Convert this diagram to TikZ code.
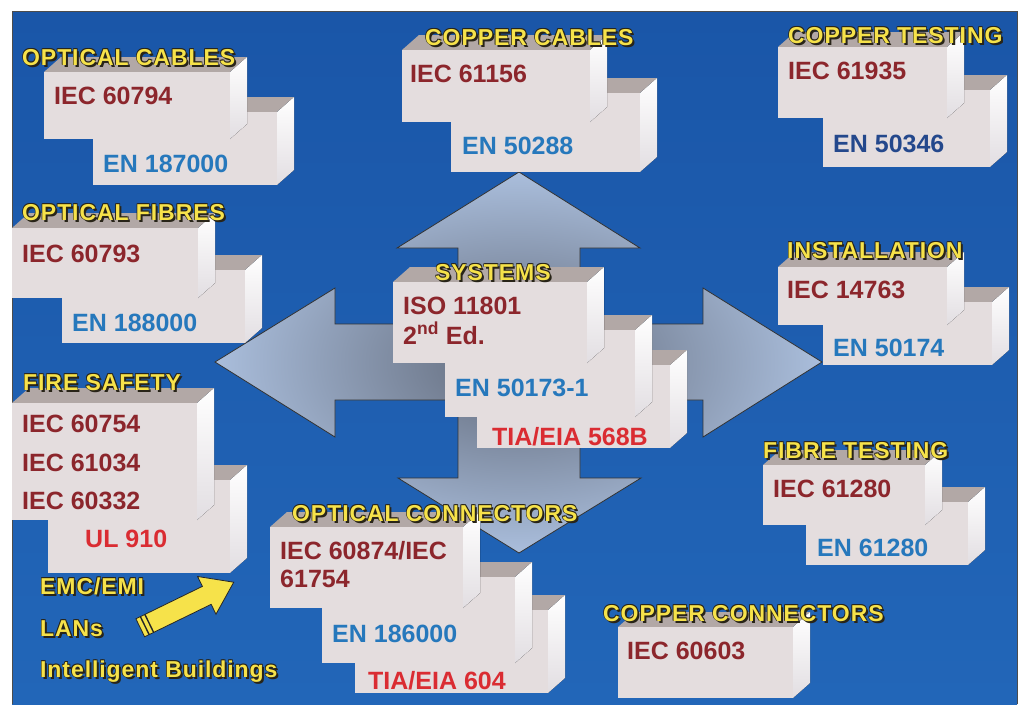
\documentclass[tikz,border=0pt]{standalone}
\usepackage{fontspec}
\setmainfont{Liberation Sans}
\newfontfamily\titlefont[LetterSpace=4]{Liberation Sans}

\definecolor{bgblue}{RGB}{26,86,168}
\definecolor{bgbluelow}{RGB}{34,102,184}
\definecolor{arrowdark}{RGB}{96,104,120}
\definecolor{arrowlight}{RGB}{170,190,220}
\definecolor{frontgray}{RGB}{228,221,222}
\definecolor{topgray}{RGB}{178,168,166}
\definecolor{sidegray}{RGB}{226,222,226}
\definecolor{iecred}{RGB}{140,38,44}
\definecolor{enblue}{RGB}{38,120,188}
\definecolor{ennavy}{RGB}{36,72,140}
\definecolor{tiared}{RGB}{218,44,50}
\definecolor{titleyellow}{RGB}{246,226,74}
\definecolor{titleshade}{RGB}{40,36,24}

\tikzset{
  frontface/.style={rectangle, fill=frontgray, inner sep=0pt, outer sep=0pt},
  topface/.style={fill=topgray},
  sideface/.style={top color=white, bottom color=sidegray},
  stdtext/.style={anchor=base west, inner sep=0pt, font=\bfseries\fontsize{25}{28}\selectfont},
  titletext/.style={anchor=base west, inner sep=0pt, text=titleyellow,
    font=\titlefont\bfseries\fontsize{23}{26}\selectfont},
}

% name, x1, y1, x2, y2 of the front face
\newcommand{\block}[5]{%
  \fill[topface] (#2,#3) -- ++(17,-15) -- ({#4+17},{#3-15}) -- (#4,#3) -- cycle;
  \fill[sideface] (#4,#3) -- ({#4+17},{#3-15}) -- ({#4+17},{#5-15}) -- (#4,#5) -- cycle;
  \node[frontface, anchor=north west, minimum width={(#4-#2)*1pt},
    minimum height={(#5-#3)*1pt}] (#1) at (#2,#3) {};
}
% name, x, baseline, text
\newcommand{\grouptitle}[4]{%
  \node[titletext, text=titleshade] (#1s) at ({#2+2},{#3+2}) {#4};
  \foreach \dx/\dy in {-0.7/-0.7, 0.7/-0.7, -0.7/0.7}
    \node[titletext, text=titleshade] at ({#2+\dx},{#3+\dy}) {#4};
  \node[titletext] (#1) at (#2,#3) {#4};
}

\begin{document}
\begin{tikzpicture}[x=1pt, y=-1pt]
  \useasboundingbox (0,0) rectangle (1019,704);
  \fill[white] (0,0) rectangle (1019,704);
  \shade[top color=bgblue, bottom color=bgbluelow] (12,11) rectangle (1017,704);
  \draw[black!70, line width=0.7] (12,704) -- (12,11) -- (1017,11) -- (1017,704);

  % four-way arrow behind SYSTEMS
  \shadedraw[draw=black!80, line width=0.8, inner color=arrowdark, outer color=arrowlight]
    (458,248) -- (397,248) -- (519,172) -- (640,248) -- (580,248) -- (580,324)
    -- (703,324) -- (703,288) -- (822,362) -- (703,437) -- (703,400) -- (580,400)
    -- (580,478) -- (641,478) -- (519,553) -- (398,478) -- (458,478) -- (458,400)
    -- (335,400) -- (335,437) -- (215,362) -- (335,288) -- (335,324) -- (458,324) -- cycle;

  % blocks, back to front
  \foreach \n/\xa/\ya/\xb/\yb in {
      ocabB/93/112/277/185, ocabA/44/72/230/139,
      ccabB/451/93/640/172, ccabA/402/50/590/122,
      ctstB/823/90/990/167, ctstA/778/47/947/118,
      ofibB/62/270/245/343, ofibA/12/228/198/298,
      sysC/477/365/670/448, sysB/445/330/635/417, sysA/393/282/587/363,
      instB/823/302/992/365, instA/778/267/947/325,
      fireB/48/480/230/573, fireA/12/403/197/520,
      oconC/355/610/548/693, oconB/322/577/515/663, oconA/270/527/463/608,
      ftstB/806/502/968/565, ftstA/763/465/925/525,
      cconA/618/627/793/698}
    {\block{\n}{\xa}{\ya}{\xb}{\yb}}

  % group titles
  \grouptitle{tocab}{22}{65}{OPTICAL CABLES}
  \grouptitle{tccab}{425}{45}{COPPER CABLES}
  \grouptitle{tctst}{788}{43}{COPPER TESTING}
  \grouptitle{tofib}{22}{220}{OPTICAL FIBRES}
  \grouptitle{tsys}{435}{280}{SYSTEMS}
  \grouptitle{tinst}{787}{258}{INSTALLATION}
  \grouptitle{tfire}{23}{390}{FIRE SAFETY}
  \grouptitle{tocon}{292}{521}{OPTICAL CONNECTORS}
  \grouptitle{tftst}{763}{458}{FIBRE TESTING}
  \grouptitle{tccon}{603}{621}{COPPER CONNECTORS}

  % standards
  \foreach \n/\x/\y/\c/\t in {
      iec794/54/104/iecred/{IEC 60794}, en187/103/172/enblue/{EN 187000},
      iec1156/410/82/iecred/{IEC 61156}, en288/462/154/enblue/{EN 50288},
      iec1935/788/79/iecred/{IEC 61935}, en346/833/152/ennavy/{EN 50346},
      iec793/22/262/iecred/{IEC 60793}, en188/72/331/enblue/{EN 188000},
      iso11801/403/314/iecred/{ISO 11801}, isoed/403/344/iecred/{2\textsuperscript{nd} Ed.},
      en173/455/396/enblue/{EN 50173-1}, tia568/492/445/tiared/{TIA/EIA 568B},
      iec4763/787/298/iecred/{IEC 14763}, en174/833/356/enblue/{EN 50174},
      iec754/22/432/iecred/{IEC 60754}, iec1034/22/471/iecred/{IEC 61034},
      iec332/22/509/iecred/{IEC 60332}, ul910/85/547/tiared/{UL 910},
      iec874/280/559/iecred/{IEC 60874/IEC}, iec1754/280/587/iecred/{61754},
      en186/332/642/enblue/{EN 186000}, tia604/368/689/tiared/{TIA/EIA 604},
      iec1280/773/497/iecred/{IEC 61280}, en1280/817/556/enblue/{EN 61280},
      iec603/627/659/iecred/{IEC 60603}}
    {\node[stdtext, text=\c] (\n) at (\x,\y) {\t};}

  % fields of use
  \grouptitle{emc}{40}{594}{EMC/EMI}
  \grouptitle{lans}{40}{636}{LANs}
  \grouptitle{ibld}{40}{677}{Intelligent Buildings}

  \begin{scope}[shift={(187,605)}, rotate=26]
    \draw[fill=titleyellow, draw=black!85, line width=0.8]
      (-52,-10) -- (22,-10) -- (22,-21) -- (52,0) -- (22,21) -- (22,10) -- (-52,10) -- cycle;
    \foreach \s in {-47,-42}
      \draw[black!85, line width=1.4] (\s,-10) -- (\s,10);
  \end{scope}
\end{tikzpicture}
\end{document}
